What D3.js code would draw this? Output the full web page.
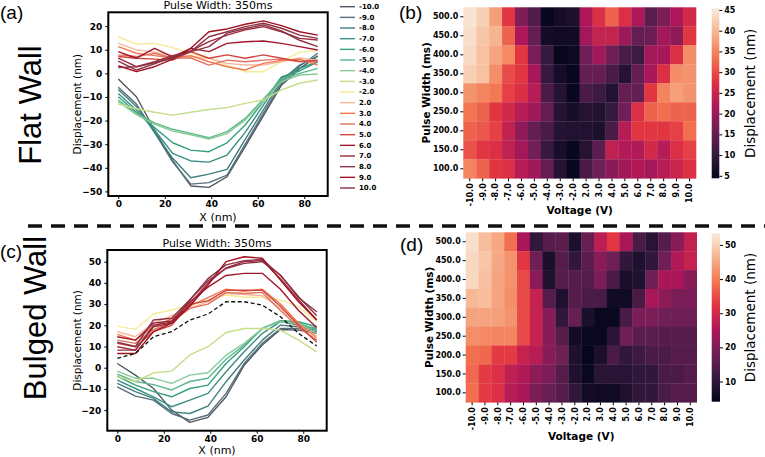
<!DOCTYPE html>
<html><head><meta charset="utf-8">
<script src="https://cdn.jsdelivr.net/npm/d3@7"></script>
<style>body{margin:0;background:#fff}svg{display:block}</style>
</head><body><svg id="fig" width="765" height="457"></svg>
<script>
// ---------------- DATA ----------------
const xPos = [0, 7.8, 15.6, 23.4, 31.2, 39, 46.8, 54.6, 62.4, 70.2, 78, 85.8];
const voltages = [-10, -9, -8, -7, -6, -5, -4, -3, -2, 2, 3, 4, 5, 6, 7, 8, 9, 10];
const voltageLabels = voltages.map(v => v.toFixed(1));
const pulseWidths = [500, 450, 400, 350, 300, 250, 200, 150, 100];
const pulseLabels = pulseWidths.map(v => v.toFixed(1));
const lineColors = ['#4f5862', '#566f7b', '#3f7f7d', '#3c8f82', '#35a07f', '#5cb78e', '#88cb98', '#c5de8a', '#f6ea98',
  '#f6b79a', '#f4784f', '#de735f', '#d2453f', '#a3172d', '#9c2b3c', '#8c3446', '#a0101f', '#8a3141'];
const xTicks = [0, 20, 40, 60, 80];
const flatYTicks = [-50, -40, -30, -20, -10, 0, 10, 20];
const bulgedYTicks = [-20, -10, 0, 10, 20, 30, 40, 50];
const flatCbarTicks = [5, 10, 15, 20, 25, 30, 35, 40, 45];
const bulgedCbarTicks = [10, 20, 30, 40, 50];

// Flat wall, pulse width 350 ms (one row per voltage, same order as voltages)
const flatLines = [
  [-2.4, -9.9, -24, -37, -47.7, -48.3, -43.8, -31, -18, -5, 2, 7.3],
  [-5.9, -13, -25, -37.5, -46.9, -46.3, -43.1, -30, -17, -4, 3, 8.5],
  [-6.8, -14, -25, -36, -44.2, -42.7, -40.7, -28, -15.5, -3, 3.5, 7.3],
  [-8.5, -15.5, -24, -33.9, -37.1, -37.6, -34.6, -25, -13.5, -2, 2.1, 4.9],
  [-9.9, -16.5, -23, -29.4, -32.5, -33.2, -29.4, -21.9, -12, -1.5, 1, 4.9],
  [-11.3, -17, -21, -23.7, -25.4, -27.3, -24.7, -19.1, -11, -2.5, 0, 2.1],
  [-12, -17.5, -21.5, -24.5, -26, -27.8, -25.5, -19.8, -11.8, -3.5, -0.7, -0.3],
  [-13, -15, -16.5, -17.7, -16.5, -15.3, -14.5, -12.7, -11.3, -7, -4.2, -2.8],
  [15.5, 12.4, 12.7, 10.9, 8.5, 6.5, 3.5, 0.7, 0.7, 5, 9, 9.5],
  [12.7, 9.9, 9, 7.5, 7, 6.4, 4.2, 3.5, 3.5, 5, 6.5, 5.5],
  [11.3, 8.5, 7.5, 6.5, 7.5, 4.9, 2.8, 1.4, 4.2, 5.5, 6, 3.5],
  [7.8, 7.1, 8.5, 6.5, 6.5, 3.5, 5.6, 4.9, 5.6, 6, 5, 4.9],
  [7.1, 6.4, 6, 5.6, 9.2, 6.4, 7.8, 6.4, 7.8, 6.4, 5, 5.6],
  [9.2, 6.4, 10.6, 7, 10.6, 9.2, 12.7, 13.4, 13.7, 12.7, 11.3, 9.9],
  [6.4, 2.8, 4.9, 7.5, 9.5, 13.4, 16.2, 18.4, 19.8, 17.6, 14.8, 14.1],
  [5.2, 1.4, 4, 7, 9.2, 15.5, 17.6, 19.8, 21.2, 19.1, 16.2, 14.8],
  [3.2, 0.7, 2.8, 6, 10.6, 17.6, 18.8, 20.8, 22.2, 20.2, 17.6, 16.2],
  [2.4, 2.8, 4.5, 6.5, 9.2, 11.3, 17, 19, 20.5, 18, 14, 11.3]
];

// Bulged wall, pulse width 350 ms
const bulgedLines = [
  [2.0, -3.5, -9.8, -20, -25.8, -23.4, -13.7, 1.2, 10.7, 18, 17.7, 16.2],
  [-9, -13.4, -15.3, -21.6, -24.7, -22.3, -12.1, 2, 11.5, 18.5, 18.5, 17],
  [-7.4, -11.3, -14.5, -20.8, -21.6, -18.1, -6.6, 3.6, 13, 20.1, 19.3, 17.7],
  [-5.8, -9.8, -13.7, -18.4, -15.3, -12.1, -1.9, 7.5, 16.2, 21.7, 20.1, 18.5],
  [-4, -8.2, -11.3, -13.7, -9.8, -8.2, 2, 9.9, 18.5, 22.2, 21.7, 19.3],
  [-3, -6.5, -8, -10.5, -6.5, -5, 4, 10.7, 18.5, 22, 21.3, 17.7],
  [-1.6, -5, -5, -7.4, -3.5, -2.4, 5.9, 11.5, 18.5, 21.7, 20.9, 16.2],
  [-4.2, -6.5, -2.4, -1.6, 6, 9.9, 16.6, 18.5, 18.5, 17.7, 13, 7.5],
  [19.6, 18.1, 25.3, 27.2, 29.5, 31.9, 34.3, 33.2, 33.2, 31.9, 28.8, 21.7],
  [17, 14.6, 21, 24.5, 28, 31, 35, 34.5, 34, 28, 20, 15],
  [15.7, 13, 19.5, 23, 29, 33, 37, 36, 37, 30, 21, 14],
  [13, 11.5, 18, 21.5, 28, 30, 35.5, 35, 35.5, 27, 19, 13],
  [11.5, 9.9, 17, 20, 30, 31.5, 36.5, 36.5, 36.5, 29, 20, 12],
  [14.6, 13, 21, 22, 31, 38, 43.5, 44.5, 44.5, 37, 27, 19],
  [9.9, 8.3, 19.3, 21, 30, 40, 47, 50, 50.5, 42, 32, 22.5],
  [12, 10, 22.5, 23.3, 32, 42, 48.5, 50.5, 51, 43.5, 33.5, 24.5],
  [6.7, 6.7, 17, 21, 29, 39, 50, 52.3, 51.6, 41.3, 31.1, 22.5],
  [8.3, 8.3, 20.1, 21.5, 31.9, 41, 46.8, 49.2, 50, 43.7, 33, 26.4]
];
const bulgedMean = [4.4, 6.7, 14.6, 17, 22.5, 25.3, 31.1, 31.1, 29.5, 24, 16.2, 10.2];

// Heatmaps: rows = pulse widths (500 -> 100), columns = voltages
const flatHeat = [
  [44.5, 42.5, 37.5, 28, 17.5, 13, 5, 6.5, 7.5, 22, 27, 32, 27, 22, 14, 17, 22, 26],
  [44, 41.5, 39.5, 32, 22, 15, 6.5, 6, 6.3, 21, 24.5, 24.5, 20.5, 15, 15.5, 21, 19, 28],
  [43.5, 41, 38, 35.5, 28, 17, 10.3, 5, 5.5, 16, 21, 16, 12.2, 11, 21, 21.5, 27, 36],
  [42.5, 41, 36, 30, 28, 21.5, 10.3, 6.5, 5, 15, 15, 12.2, 8.5, 15, 21.5, 27, 36, 36.5],
  [36.5, 35, 34, 29, 27, 23, 12.2, 8.5, 5, 12.2, 11, 8, 15, 15, 28, 35, 37.5, 36.5],
  [33.5, 32, 28, 26, 23, 20.5, 15, 8.5, 7, 8.5, 8, 10.3, 16, 27, 32, 33, 32, 32],
  [32, 31, 29, 24, 19, 15, 12.2, 8.5, 8, 8, 7.5, 12.2, 23, 28, 28, 28, 29, 33],
  [30.5, 28, 27, 24, 21, 16.5, 10.3, 7, 5, 8.5, 14, 24, 22.5, 22.5, 26, 23, 27, 29],
  [35, 32, 28, 27, 23, 20.5, 15, 8.5, 5, 12.2, 16, 18.5, 21, 22.5, 21, 23, 25, 27]
];
const bulgedHeat = [
  [52, 47.5, 45, 38.6, 24.8, 10.5, 15, 15.5, 7.5, 17, 27, 32.7, 24.8, 13.5, 9.5, 15, 21, 27.8],
  [51, 48.5, 45, 42.5, 32.7, 18, 7.5, 15, 10.5, 15.5, 21, 18, 10.5, 8, 10.5, 18, 25.8, 28.3],
  [51, 48, 44.5, 42.5, 34.7, 21, 8, 15, 15, 15, 19.5, 13.5, 7.5, 8, 18, 24.8, 24.8, 21],
  [47, 47.5, 44.5, 42, 34.7, 28.3, 15, 8, 15, 13.5, 13.5, 6, 6, 13.5, 24.8, 21.5, 19.5, 19.5],
  [44.5, 44.5, 44, 42.5, 34.7, 28.3, 21, 10.5, 17, 7.5, 5, 5, 13.5, 19.5, 19.5, 18, 18, 18],
  [42, 41.5, 41, 41, 34.7, 28.3, 21, 15, 6.5, 5, 5, 9.5, 18, 15.5, 15.5, 15, 15, 15],
  [38.6, 38, 33, 33, 28.3, 26.5, 21, 18, 8, 4.5, 7.5, 13.5, 10.5, 12, 13.5, 13.5, 15, 15],
  [38, 33, 31.5, 27.5, 25.8, 21.5, 19.5, 15, 8, 5, 9.5, 9.5, 9.5, 10.5, 10.5, 13.5, 13.5, 15],
  [38.6, 33, 31.5, 26.5, 24.8, 19.5, 17, 15, 10.5, 6.5, 6, 6, 8, 10.5, 10.5, 13.5, 15, 15]
];
const flatRange = [4.4, 45.4];
const bulgedRange = [4.1, 53.4];

// ---------------- DRAWING ----------------
const svg = d3.select('#fig');
const FONT = 'DejaVu Sans, sans-serif';
const rocketStops = ['#03051a', '#35193e', '#701f57', '#ad1759', '#e13342', '#f37651', '#f6b48f', '#faebdd'];

function styleAxis(sel, size) {
  sel.attr('font-family', FONT).attr('font-size', size).attr('font-weight', 'bold');
  sel.select('.domain').remove();
  sel.selectAll('text').attr('fill', '#000');
  sel.selectAll('line').attr('stroke', '#000');
}

function linePanel(cfg) {
  const g = svg.append('g');
  const x = d3.scaleLinear().domain([-4.29, 90.09]).range([cfg.l, cfg.r]);
  const y = d3.scaleLinear().domain(cfg.yd).range([cfg.b, cfg.t]);
  const line = d3.line().x((d, i) => x(xPos[i])).y(d => y(d));
  cfg.lines.forEach((s, k) => {
    g.append('path').attr('d', line(s)).attr('fill', 'none')
      .attr('stroke', lineColors[k]).attr('stroke-width', 1.4).attr('stroke-linejoin', 'round');
  });
  if (cfg.mean) {
    g.append('path').attr('d', line(cfg.mean)).attr('fill', 'none')
      .attr('stroke', '#111').attr('stroke-width', 1.3).attr('stroke-dasharray', '4,2.5');
  }
  g.append('g').attr('transform', `translate(0,${cfg.b})`)
    .call(d3.axisBottom(x).tickValues(xTicks).tickSize(3).tickPadding(1.5))
    .call(s => styleAxis(s, 9));
  g.append('g').attr('transform', `translate(${cfg.l},0)`)
    .call(d3.axisLeft(y).tickValues(cfg.yticks).tickSize(3).tickPadding(3))
    .call(s => styleAxis(s, 9));
  g.append('rect').attr('x', cfg.l).attr('y', cfg.t).attr('width', cfg.r - cfg.l).attr('height', cfg.b - cfg.t)
    .attr('fill', 'none').attr('stroke', '#000').attr('stroke-width', 2);
  g.append('text').attr('x', (cfg.l + cfg.r) / 2).attr('y', cfg.t - 3).attr('text-anchor', 'middle')
    .attr('font-family', FONT).attr('font-size', 11).text('Pulse Width: 350ms');
  g.append('text').attr('x', (cfg.l + cfg.r) / 2).attr('y', cfg.xlabY).attr('text-anchor', 'middle')
    .attr('font-family', FONT).attr('font-size', 11).text('X (nm)');
  g.append('text').attr('transform', `translate(81,${(cfg.t + cfg.b) / 2}) rotate(-90)`).attr('text-anchor', 'middle')
    .attr('font-family', FONT).attr('font-size', 10.5).text('Displacement (nm)');
}

function heatPanel(cfg) {
  const g = svg.append('g');
  const x = d3.scaleBand().domain(voltageLabels).range([cfg.l, cfg.r]);
  const y = d3.scaleBand().domain(pulseLabels).range([cfg.t, cfg.b]);
  const [d0, d1] = cfg.range;
  const color = d3.scaleLinear()
    .domain(rocketStops.map((c, i) => d0 + (d1 - d0) * i / (rocketStops.length - 1)))
    .range(rocketStops).interpolate(d3.interpolateRgb).clamp(true);
  cfg.data.forEach((row, r) => row.forEach((v, c) => {
    g.append('rect').attr('x', x(voltageLabels[c])).attr('y', y(pulseLabels[r]))
      .attr('width', x.bandwidth() + 0.3).attr('height', y.bandwidth() + 0.3).attr('fill', color(v));
  }));
  g.append('g').attr('transform', `translate(${cfg.l},0)`)
    .call(d3.axisLeft(y).tickSize(3).tickPadding(2))
    .call(s => styleAxis(s, 8));
  const gx = g.append('g').attr('transform', `translate(0,${cfg.b})`)
    .call(d3.axisBottom(x).tickSize(3).tickPadding(2))
    .call(s => styleAxis(s, 8));
  gx.selectAll('text').attr('transform', 'rotate(-90)').attr('text-anchor', 'end')
    .attr('x', -5).attr('y', 0).attr('dy', '0.35em');
  g.append('text').attr('x', (cfg.l + cfg.r) / 2).attr('y', cfg.xlabY).attr('text-anchor', 'middle')
    .attr('font-family', FONT).attr('font-size', 10.5).attr('font-weight', 'bold').text('Voltage (V)');
  g.append('text').attr('transform', `translate(${cfg.l - 33},${(cfg.t + cfg.b) / 2}) rotate(-90)`).attr('text-anchor', 'middle')
    .attr('font-family', FONT).attr('font-size', 10.5).attr('font-weight', 'bold').text('Pulse Width (ms)');
  // colorbar
  const cb = cfg.cbar;
  const cy = d3.scaleLinear().domain(cfg.range).range([cb.b, cb.t]);
  const gid = 'grad' + cfg.id;
  const grad = svg.append('defs').append('linearGradient').attr('id', gid)
    .attr('x1', 0).attr('y1', 1).attr('x2', 0).attr('y2', 0);
  d3.range(0, 41).forEach(i => {
    grad.append('stop').attr('offset', i / 40).attr('stop-color', color(d0 + (d1 - d0) * i / 40));
  });
  g.append('rect').attr('x', cb.x).attr('y', cb.t).attr('width', cb.w).attr('height', cb.b - cb.t)
    .attr('fill', `url(#${gid})`);
  g.append('g').attr('transform', `translate(${cb.x + cb.w},0)`)
    .call(d3.axisRight(cy).tickValues(cfg.cticks).tickSize(3).tickPadding(2).tickFormat(d3.format('d')))
    .call(s => styleAxis(s, 8));
  g.append('text').attr('transform', `translate(755,${(cb.t + cb.b) / 2}) rotate(-90)`).attr('text-anchor', 'middle')
    .attr('font-family', FONT).attr('font-size', 13.5).text('Displacement (nm)');
}

// Panel (a)
linePanel({ l: 108.3, r: 327.7, t: 12.3, b: 196, yd: [-51.95, 25.85], yticks: flatYTicks, lines: flatLines, xlabY: 221 });
// Legend for (a)
const leg = svg.append('g');
const legY = d3.scalePoint().domain(voltageLabels).range([6.7, 188]);
voltageLabels.forEach((lab, k) => {
  leg.append('line').attr('x1', 340).attr('x2', 355).attr('y1', legY(lab)).attr('y2', legY(lab))
    .attr('stroke', lineColors[k]).attr('stroke-width', 1.4);
  leg.append('text').attr('x', 359).attr('y', legY(lab)).attr('dy', '0.35em')
    .attr('font-family', FONT).attr('font-size', 7).attr('font-weight', 'bold').text(lab);
});
// Panel (c)
linePanel({ l: 107.3, r: 326.7, t: 250, b: 430.7, yd: [-29.7, 55.5], yticks: bulgedYTicks, lines: bulgedLines, mean: bulgedMean, xlabY: 454 });

// Panel (b)
heatPanel({ id: 'b', l: 463.3, r: 696, t: 7.3, b: 178.3, data: flatHeat, range: flatRange, cticks: flatCbarTicks,
  cbar: { x: 711.7, w: 7.6, t: 8.3, b: 178.3 }, xlabY: 214 });
// Panel (d)
heatPanel({ id: 'd', l: 465.7, r: 696.7, t: 232.3, b: 402.3, data: bulgedHeat, range: bulgedRange, cticks: bulgedCbarTicks,
  cbar: { x: 711.7, w: 8.3, t: 233.3, b: 401.7 }, xlabY: 440 });

// Panel letters and row titles
const letters = [['(a)', 0, 19], ['(b)', 399, 19], ['(c)', 0, 258], ['(d)', 400, 251]];
letters.forEach(([t, x, y]) => svg.append('text').attr('x', x).attr('y', y)
  .attr('font-family', 'Liberation Sans, Arial, sans-serif').attr('font-size', 19).text(t));
svg.append('text').attr('transform', 'translate(41,105) rotate(-90)').attr('text-anchor', 'middle')
  .attr('font-family', 'Liberation Sans, Arial, sans-serif').attr('font-size', 31).text('Flat Wall');
svg.append('text').attr('transform', 'translate(46,318) rotate(-90)').attr('text-anchor', 'middle')
  .attr('font-family', 'Liberation Sans, Arial, sans-serif').attr('font-size', 31).text('Bulged Wall');
// Separator
svg.append('line').attr('x1', 28).attr('x2', 765).attr('y1', 226).attr('y2', 226)
  .attr('stroke', '#111').attr('stroke-width', 3.3).attr('stroke-dasharray', '14,9');
</script></body></html>
